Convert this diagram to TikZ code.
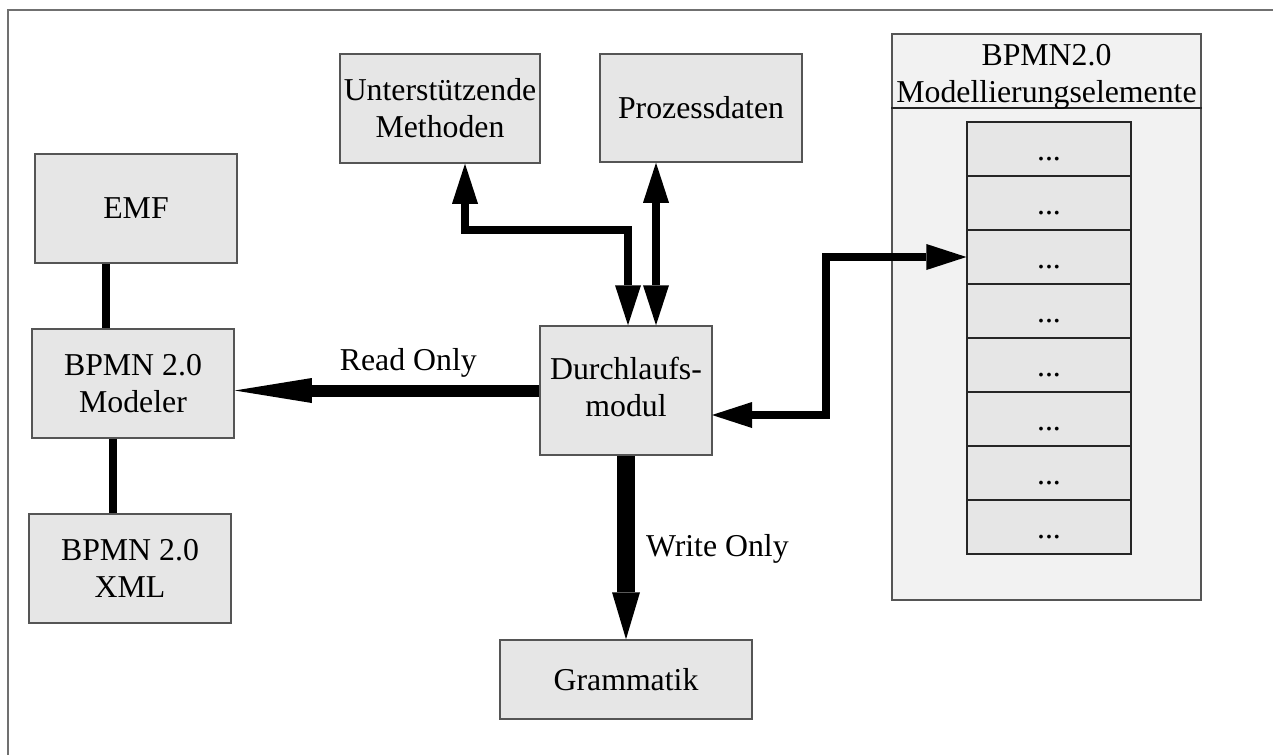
\documentclass[tikz,border=0pt]{standalone}
\usepackage{fontspec}
\setmainfont{Liberation Serif}
\usetikzlibrary{arrows.meta,calc}
\definecolor{boxfill}{HTML}{E6E6E6}
\definecolor{panelfill}{HTML}{F2F2F2}
\definecolor{edge}{HTML}{555555}
\definecolor{framecol}{HTML}{707070}
\begin{document}
\begin{tikzpicture}[x=0.5pt,y=-0.5pt,
  every node/.style={font=\fontsize{15.9pt}{18.5pt}\selectfont, align=center, inner sep=0pt},
  blk/.style={draw=edge, fill=boxfill, line width=0.75pt, rectangle},
  rowbox/.style={draw=black!85, fill=boxfill, line width=0.6pt, rectangle,
    minimum width=82pt, minimum height=27pt},
  link/.style={line width=4pt},
  dbl/.style={line width=4pt,
    {Triangle[length=20pt,width=13pt,line width=0pt]}-{Triangle[length=20pt,width=13pt,line width=0pt]}},
]
\useasboundingbox (0,0) rectangle (1273,755);

% frame
\draw[framecol, line width=0.8pt] (1273,10) -- (8,10) -- (8,755);

% left column
\node[blk, minimum width=101pt, minimum height=54.5pt] (emf) at (136,208.5) {EMF};
\node[blk, minimum width=101pt, minimum height=54.5pt] (mod) at (133,383.5) {BPMN 2.0\\Modeler};
\node[blk, minimum width=101pt, minimum height=54.5pt] (xml) at (130,568.5) {BPMN 2.0\\XML};

% top boxes
\node[blk, minimum width=100pt, minimum height=54.5pt] (ums) at (440,108.5) {Unterstützende\\Methoden};
\node[blk, minimum width=101pt, minimum height=54pt] (pd) at (701,108) {Prozessdaten};

% central module and grammar
\node[blk, minimum width=86pt, minimum height=64.5pt] (dm) at (626,390.5)
  {\raisebox{-6pt}{\begin{tabular}{@{}c@{}}Durchlaufs-\\modul\end{tabular}}};
\node[blk, minimum width=126pt, minimum height=39.5pt] (gram) at (626,679.5) {Grammatik};

% element panel
\node[draw=edge, fill=panelfill, line width=0.75pt, minimum width=154.5pt, minimum height=283pt] (panel) at (1046.5,317) {};
\draw[black!85, line width=0.75pt] (panel.west |- 0,108) -- (panel.east |- 0,108);
\node (hdr) at (1046.5,77) {BPMN2.0\\Modellierungselemente};
\foreach \i in {1,...,8}
  \node[rowbox] (r\i) at (1049,{95+54*\i}) {\raisebox{-5.5pt}[0pt][0pt]{...}};

% helper coordinates for connector routing
\coordinate (xa) at (106,0);
\coordinate (xb) at (113,0);
\coordinate (bend1) at (628,230);
\coordinate (up1) at (465,0);
\coordinate (xp) at (656,0);
\coordinate (out) at (712,415);
\coordinate (bend2) at (826,415);

% connectors
\draw[link] (emf.south -| xa) -- (mod.north -| xa);
\draw[link] (mod.south -| xb) -- (xml.north -| xb);

\draw[line width=6pt, -{Triangle[length=38.5pt,width=12.5pt,line width=0pt]}]
  (dm.west) -- (dm.west -| mod.east)
  node[pos=0.43, above=3.5pt] (ro) {Read Only};

\draw[line width=9pt, -{Triangle[length=23.5pt,width=14pt,line width=0pt]}]
  (dm.south) -- (gram.north)
  node[pos=0.51, right=5.5pt] (wo) {Write Only};

\draw[dbl] (ums.south -| up1) |- (bend1) -- (dm.north -| bend1);
\draw[dbl] (pd.south -| xp) -- (dm.north -| xp);
\draw[dbl] (out) -- (bend2) |- (r3.west);
\end{tikzpicture}
\end{document}
